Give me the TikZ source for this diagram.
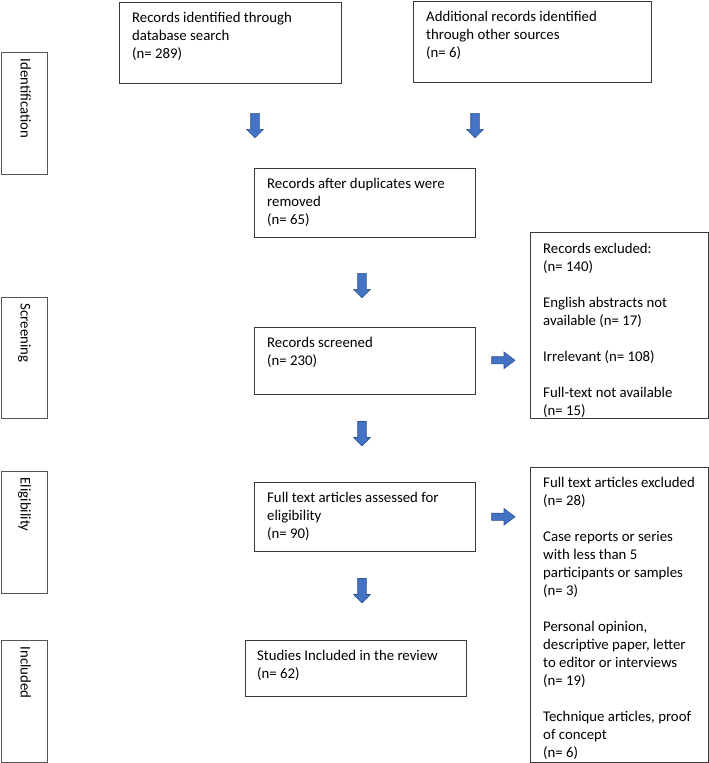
\documentclass[tikz,border=0pt]{standalone}
\usepackage{fontspec}
\setmainfont{Carlito}
\usetikzlibrary{calc}
\definecolor{arrfill}{HTML}{4472C4}
\definecolor{arrdraw}{HTML}{2F528F}
\definecolor{boxline}{HTML}{3A3A3A}
\definecolor{sideline}{HTML}{555555}
\begin{document}
\begin{tikzpicture}[x=1pt,y=-1pt,
  box/.style={draw=boxline, line width=1.1pt, inner sep=0pt, anchor=north west},
  sidebox/.style={draw=sideline, line width=1.1pt, inner sep=0pt, anchor=north west, minimum width=46.5pt},
  txt/.style={font=\fontsize{14.8}{18}\selectfont, align=left, inner sep=0pt, anchor=north west},
  sidetxt/.style={font=\fontsize{14.8}{18}\selectfont, inner sep=0pt, anchor=base west, rotate=-90},
  blockarrow/.style={fill=arrfill, draw=arrdraw, line width=0.6pt, line join=miter},
  darr/.pic={\path[blockarrow] (-4.3,0) -- (4.3,0) -- (4.3,16) -- (8.3,16) -- (0,24.5) -- (-8.3,16) -- (-4.3,16) -- cycle;},
  rarr/.pic={\path[blockarrow] (0,-3.6) -- (12.3,-3.6) -- (12.3,-8.3) -- (23.3,0) -- (12.3,8.3) -- (12.3,3.6) -- (0,3.6) -- cycle;}
]
\newcommand{\fs}{\rule{0pt}{12pt}}
\useasboundingbox (0,0) rectangle (709,763);

% side stage boxes
\node[sidebox, minimum height=122pt] (sid) at (0.6,52) {};
\node[sidebox, minimum height=121pt] (ssc) at (0.6,297) {};
\node[sidebox, minimum height=122pt] (sel) at (0.6,471) {};
\node[sidebox, minimum height=122pt] (sin) at (0.6,640) {};
\node[sidetxt] (tid) at ($(sid.north west)+(20,6.5)$) {Identification};
\node[sidetxt] (tsc) at ($(ssc.north west)+(20,6.5)$) {Screening};
\node[sidetxt] (tel) at ($(sel.north west)+(20,6.5)$) {Eligibility};
\node[sidetxt] (tin) at ($(sin.north west)+(20,6.5)$) {Included};

% main boxes
\node[box, minimum width=222pt, minimum height=81pt] (b1) at (119,2) {};
\node[box, minimum width=238pt, minimum height=81pt] (b2) at (413,1) {};
\node[box, minimum width=221pt, minimum height=69pt] (b3) at (254,168) {};
\node[box, minimum width=221pt, minimum height=67pt] (b4) at (254,327) {};
\node[box, minimum width=177.5pt, minimum height=186pt] (e1) at (530,232) {};
\node[box, minimum width=221pt, minimum height=69pt] (b5) at (254,482) {};
\node[box, minimum width=177.5pt, minimum height=295pt] (e2) at (530,467) {};
\node[box, minimum width=221pt, minimum height=56pt] (b6) at (245,640) {};

\node[txt] (t1) at ($(b1.north west)+(13,8)$) {\fs Records identified through\\database search\\(n= 289)};
\node[txt] (t2) at ($(b2.north west)+(13,8)$) {\fs Additional records identified\\through other sources\\(n= 6)};
\node[txt] (t3) at ($(b3.north west)+(13,8)$) {\fs Records after duplicates were\\removed\\(n= 65)};
\node[txt] (t4) at ($(b4.north west)+(13,8)$) {\fs Records screened\\(n= 230)};
\node[txt] (te1) at ($(e1.north west)+(13,9)$) {\fs Records excluded:\\(n= 140)\\[18pt]English abstracts not\\available (n= 17)\\[18pt]Irrelevant (n= 108)\\[18pt]Full-text not available\\(n= 15)};
\node[txt] (t5) at ($(b5.north west)+(13,8)$) {\fs Full text articles assessed for\\eligibility\\(n= 90)};
\node[txt] (te2) at ($(e2.north west)+(13,8)$) {\fs Full text articles excluded\\(n= 28)\\[18pt]Case reports or series\\with less than 5\\participants or samples\\(n= 3)\\[18pt]Personal opinion,\\descriptive paper, letter\\to editor or interviews\\(n= 19)\\[18pt]Technique articles, proof\\of concept\\(n= 6)};
\node[txt] (t6) at ($(b6.north west)+(12,8)$) {\fs Studies Included in the review\\(n= 62)};

% block arrows
\pic at (255,113.3) {darr};
\pic at (475,113.3) {darr};
\pic at (362,273.3) {darr};
\pic at (362,421.5) {darr};
\pic at (362,578.5) {darr};
\pic at (491.7,360.3) {rarr};
\pic at (491.7,516.8) {rarr};
\end{tikzpicture}
\end{document}
